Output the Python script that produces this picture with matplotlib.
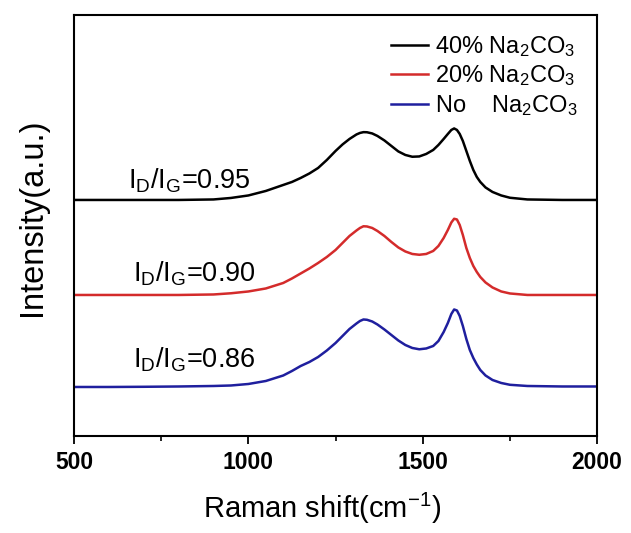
import matplotlib
matplotlib.use("Agg")
import matplotlib.pyplot as plt
from matplotlib.ticker import MultipleLocator

plt.rcParams['font.family'] = ['Liberation Sans', 'DejaVu Sans']
plt.rcParams['mathtext.fontset'] = 'custom'
plt.rcParams['mathtext.rm'] = 'Liberation Sans'
plt.rcParams['mathtext.it'] = 'Liberation Sans:italic'
plt.rcParams['mathtext.bf'] = 'Liberation Sans:bold'

# Raman shift (cm-1)
shift = [500, 600, 700, 800, 900, 950, 1000, 1050, 1100, 1125,
         1150, 1175, 1200, 1225, 1250, 1270, 1290, 1310, 1320, 1330,
         1340, 1355, 1370, 1390, 1410, 1430, 1450, 1470, 1490, 1510,
         1530, 1545, 1560, 1572, 1582, 1590, 1598, 1606, 1615, 1625,
         1635, 1645, 1655, 1665, 1680, 1700, 1725, 1750, 1800, 1900,
         2000]

# stacked intensities (a.u., offsets included)
na40 = [236, 236, 236, 236, 236.5, 238, 240.5, 245, 251, 254,
        258, 262.5, 268, 276, 285, 291.5, 297, 301.5, 303, 303.8,
        303.7, 302.5, 300, 295.5, 290, 284.5, 281, 279.2, 279.5, 282,
        286, 291, 297, 302, 306, 307.5, 306, 302, 295, 285,
        275, 266, 259, 254, 248.5, 244, 240.5, 238.2, 236.5, 236,
        236]
na20 = [141, 141, 141, 141, 141.5, 142.7, 144.5, 147.5, 153, 157.5,
        162.5, 167.5, 173, 179, 186, 193, 200, 205.5, 208, 209.7,
        209.5, 208, 205, 200, 194, 188.5, 184.5, 182, 181.2, 182,
        185, 190, 198, 206, 213.5, 217.2, 216.5, 211, 201, 188,
        178, 170, 164, 159, 153.5, 148.5, 144.5, 142.5, 141, 141,
        141]
na0 = [49, 49, 49.2, 49.5, 50, 50.5, 52, 55, 60.5, 65,
       70, 74, 79, 85.5, 93, 100, 107, 112.5, 115, 116.5,
       116.2, 114.5, 111.5, 106.5, 101, 95.5, 91, 88, 86.7, 87.5,
       90, 95, 104, 113, 122, 126.5, 125.5, 120, 110, 97,
       86, 78, 71.5, 66, 60.5, 56, 53, 51.2, 50, 49.5,
       49.5]

labels = [r'40% Na$_\mathregular{2}$CO$_\mathregular{3}$',
          r'20% Na$_\mathregular{2}$CO$_\mathregular{3}$',
          r'No    Na$_\mathregular{2}$CO$_\mathregular{3}$']
colors = ['black', '#d42b2b', '#1f1f9e']
ratios = ['0.95', '0.90', '0.86']
ratio_pos = [(655, 247), (669, 154), (669, 68)]

fig = plt.figure(figsize=(6.31, 5.33), dpi=100)
ax = fig.add_axes([0.1173, 0.182, 0.829, 0.79])

for ys, c, lab in zip([na40, na20, na0], colors, labels):
    ax.plot(shift, ys, color=c, lw=1.8, label=lab, solid_joinstyle='round')

for r, (xp, yp) in zip(ratios, ratio_pos):
    ax.text(xp, yp, r'I$_\mathregular{D}$/I$_\mathregular{G}$=' + r, fontsize=19.5)

ax.set_xlim(500, 2000)
ax.set_ylim(0, 421)
ax.xaxis.set_major_locator(MultipleLocator(500))
ax.xaxis.set_minor_locator(MultipleLocator(250))
ax.tick_params(axis='x', which='major', direction='out', length=6, width=1.3,
               labelsize=16.5, pad=5)
ax.tick_params(axis='x', which='minor', direction='out', length=3.5, width=1.2)
for lbl in ax.get_xticklabels():
    lbl.set_fontweight('bold')
ax.set_yticks([])
for s in ax.spines.values():
    s.set_linewidth(1.5)

ax.set_xlabel('Raman shift(cm$^\mathregular{-1}$)', fontsize=21, labelpad=12, x=0.475)
ax.set_ylabel('Intensity(a.u.)', fontsize=23.5, labelpad=19, y=0.52)

ax.legend(loc='upper right', frameon=False, fontsize=17, handlelength=1.6,
          handletextpad=0.3, labelspacing=0.2, borderaxespad=0.4)

fig.savefig('out.png', dpi=100)
